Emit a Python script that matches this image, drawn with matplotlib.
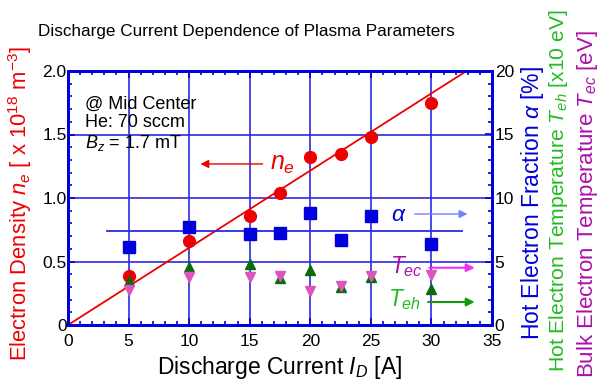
import matplotlib
matplotlib.use("Agg")
import matplotlib.pyplot as plt
from matplotlib.ticker import MultipleLocator

plt.rcParams['font.family'] = ['Liberation Sans', 'DejaVu Sans']
plt.rcParams['mathtext.fontset'] = 'custom'
plt.rcParams['mathtext.rm'] = 'Liberation Sans'
plt.rcParams['mathtext.it'] = 'Liberation Sans:italic'

# Discharge current [A]
current = [5, 10, 15, 17.5, 20, 22.5, 25, 30]
# Electron density [x 10^18 m^-3]
n_e = [0.386, 0.664, 0.861, 1.042, 1.325, 1.346, 1.483, 1.746]
# Hot electron fraction alpha [%]
alpha = [6.12, 7.69, 7.14, 7.22, 8.80, 6.69, 8.58, 6.38]
# Hot electron temperature T_eh [x10 eV]
T_eh = [3.49, 4.54, 4.78, 3.70, 4.33, 3.00, 3.75, 2.81]
# Bulk electron temperature T_ec [eV]
T_ec = [2.76, 3.80, 3.75, 3.82, 2.70, 3.10, 3.85, 3.94]

ne_slope = 0.0608      # linear fit of n_e vs I_D
alpha_avg = 7.42       # average hot electron fraction
alpha_span = [3.2, 32.5]

BLUE = '#0000dd'
GRID = '#2a2ae6'
RED = '#ee0000'
DKGREEN = '#0b6b0b'
PINK = '#dd55bb'
LBL_GREEN = '#22bb22'
LBL_PURPLE = '#aa11aa'

W, H = 601, 381
fig = plt.figure(figsize=(W / 100, H / 100), dpi=100)
ax = fig.add_axes([68 / W, 1 - 325 / H, (492 - 68) / W, (325 - 71) / H])
ax2 = ax.twinx()

ax.set_xlim(0, 35)
ax.set_ylim(0, 2.0)
ax2.set_ylim(0, 20)

# grid
for x in [5, 10, 15, 20, 25, 30]:
    ax.axvline(x, color=GRID, lw=1.2, zorder=1)
for y in [0.5, 1.0, 1.5]:
    ax.axhline(y, color=GRID, lw=1.2, zorder=1)

# density fit line and points
x_end = 2.0 / ne_slope
ax.plot([0, x_end], [0, ne_slope * x_end], color=RED, lw=1.3, zorder=3)
ax.plot(current, n_e, 'o', color=RED, ms=8.5, mec=RED, zorder=4)

# right-axis quantities
ax2.plot(alpha_span, [alpha_avg, alpha_avg], color=GRID, lw=1.3, zorder=2)
ax2.plot(current, alpha, 's', color=BLUE, ms=9, zorder=4)
ax2.plot(current, T_eh, '^', color=DKGREEN, ms=7.5, zorder=4)
ax2.plot(current, T_ec, 'v', color=PINK, ms=7.5, zorder=5)

# ticks and spines
for a in (ax, ax2):
    for s in a.spines.values():
        s.set_color(BLUE)
        s.set_linewidth(2)
    a.tick_params(which='both', direction='in', color=BLUE, labelsize=12.5,
                  labelcolor='black')
    a.tick_params(which='major', length=5, width=1.2)
    a.tick_params(which='minor', length=3, width=1.2)

ax.xaxis.set_major_locator(MultipleLocator(5))
ax.xaxis.set_minor_locator(MultipleLocator(1))
ax.yaxis.set_minor_locator(MultipleLocator(0.1))
ax.tick_params(which='both', top=True)
ax.tick_params(axis='x', which='both', pad=6.5)
ax.tick_params(axis='y', which='both', pad=1)
ax.set_yticks([0, 0.5, 1.0, 1.5, 2.0])
ax.set_yticklabels(['0', '0.5', '1.0', '1.5', '2.0'])
ax2.yaxis.set_major_locator(MultipleLocator(5))
ax2.yaxis.set_minor_locator(MultipleLocator(1))
ax2.tick_params(axis='y', which='both', pad=2)

# titles and axis labels
fig.text(280 / W, 1 - 374 / H, r'Discharge Current $I_D$ [A]',
         fontsize=16.5, ha='center', va='baseline')
fig.text(38 / W, 1 - 36 / H, 'Discharge Current Dependence of Plasma Parameters',
         fontsize=12.3, ha='left', va='baseline')
fig.text(20 / W, 1 - 204 / H, r'Electron Density $n_e$ [ x 10$^{18}$ m$^{-3}$]',
         color=RED, fontsize=15.8, rotation=90, ha='center', va='center')
fig.text(532 / W, 1 - 203 / H, r'Hot Electron Fraction $\alpha$ [%]',
         color=BLUE, fontsize=16.5, rotation=90, ha='center', va='center')
fig.text(559 / W, 1 - 191 / H, r'Hot Electron Temperature $T_{eh}$ [x10 eV]',
         color=LBL_GREEN, fontsize=15.2, rotation=90, ha='center', va='center')
fig.text(588 / W, 1 - 378 / H, r'Bulk Electron Temperature $T_{ec}$ [eV]',
         color=LBL_PURPLE, fontsize=16, rotation=90, ha='center', va='bottom')

# conditions
ax.text(1.4, 1.803, '@ Mid Center\nHe: 70 sccm\n$B_z$ = 1.7 mT', fontsize=13,
        ha='left', va='top', linespacing=1.1)

# series annotations
ax.text(16.7, 1.27, r'$n_e$', color=RED, fontsize=18, ha='left', va='center')
ax.annotate('', xy=(10.7, 1.268), xytext=(16.3, 1.268),
            arrowprops=dict(arrowstyle='-|>', color=RED, lw=1, mutation_scale=12))
ax2.text(26.7, 8.74, r'$\alpha$', color=BLUE, fontsize=16.5, ha='left', va='center')
ax2.annotate('', xy=(33.2, 8.74), xytext=(28.4, 8.74),
             arrowprops=dict(arrowstyle='-|>', color='#7080ff', lw=1, mutation_scale=12))
ax2.text(26.6, 4.6, r'$T_{ec}$', color=LBL_PURPLE, fontsize=16.5, ha='left', va='center')
ax2.annotate('', xy=(33.8, 4.51), xytext=(29.6, 4.51),
             arrowprops=dict(arrowstyle='-|>', color='#ee33ee', lw=1.5, mutation_scale=12))
ax2.text(26.4, 2.0, r'$T_{eh}$', color=LBL_GREEN, fontsize=16.5, ha='left', va='center')
ax2.annotate('', xy=(33.8, 1.81), xytext=(29.5, 1.81),
             arrowprops=dict(arrowstyle='-|>', color='#119911', lw=1.5, mutation_scale=12))

fig.savefig('out.png', dpi=100)
